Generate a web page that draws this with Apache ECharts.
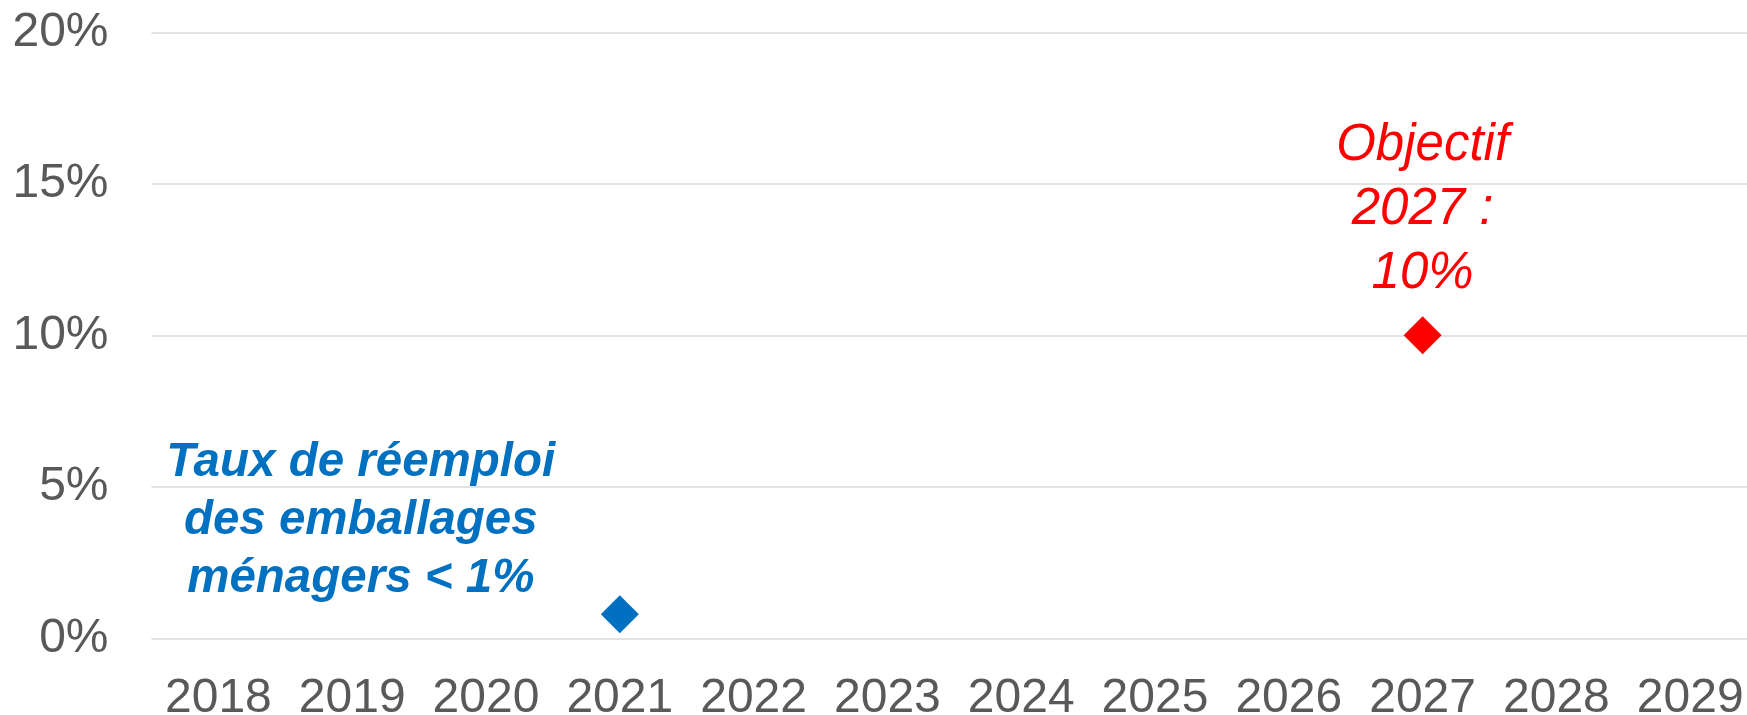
<!DOCTYPE html>
<html>
<head>
<meta charset="utf-8">
<script src="https://cdn.jsdelivr.net/npm/echarts@6/dist/echarts.min.js"></script>
<style>
html,body{margin:0;padding:0;background:#fff;}
#chart{width:1747px;height:715px;}
</style>
</head>
<body>
<div id="chart"></div>
<script>
const years = ['2018','2019','2020','2021','2022','2023','2024','2025','2026','2027','2028','2029'];
const reuseRate = ['-','-','-',0.8,'-','-','-','-','-','-','-','-'];
const target2027 = ['-','-','-','-','-','-','-','-','-',10,'-','-'];
const yTicks = [0, 5, 10, 15, 20];
const reuseLabel = 'Taux de réemploi\ndes emballages\nménagers < 1%';
const targetLabel = 'Objectif\n2027 :\n10%';

const chart = echarts.init(document.getElementById('chart'));
chart.setOption({
  animation: false,
  backgroundColor: '#ffffff',
  grid: { left: 151.5, width: 1605.6, top: 32.3, bottom: 76.6, containLabel: false, outerBoundsMode: 'none' },
  xAxis: {
    type: 'category',
    data: years,
    boundaryGap: true,
    axisLine: { show: false },
    axisTick: { show: false },
    axisLabel: { color: '#595959', fontSize: 48, fontFamily: 'Liberation Sans, Arial, sans-serif', margin: 36, interval: 0 },
    splitLine: { show: false }
  },
  yAxis: {
    type: 'value',
    min: yTicks[0],
    max: yTicks[yTicks.length - 1],
    interval: 5,
    axisLine: { show: false },
    axisTick: { show: false },
    axisLabel: { color: '#595959', fontSize: 48, fontFamily: 'Liberation Sans, Arial, sans-serif', margin: 43, formatter: '{value}%' },
    splitLine: { show: true, lineStyle: { color: '#D9D9D9', width: 1.5 } }
  },
  series: [
    {
      name: 'reuse',
      type: 'scatter',
      data: reuseRate,
      symbol: 'diamond',
      symbolSize: 38,
      itemStyle: { color: '#0070C0', opacity: 1 },
      label: {
        show: true,
        position: 'top',
        distance: 5,
        offset: [-259, 18],
        formatter: reuseLabel,
        color: '#0070C0',
        opacity: 1,
        fontSize: 47.5,
        fontWeight: 'bold',
        fontStyle: 'italic',
        fontFamily: 'Liberation Sans, Arial, sans-serif',
        lineHeight: 58,
        align: 'center'
      }
    },
    {
      name: 'target',
      type: 'scatter',
      data: target2027,
      symbol: 'diamond',
      symbolSize: 38,
      itemStyle: { color: '#FF0000', opacity: 1 },
      label: {
        show: true,
        position: 'top',
        distance: 11,
        formatter: targetLabel,
        color: '#FF0000',
        opacity: 1,
        fontSize: 51,
        fontStyle: 'italic',
        fontFamily: 'Liberation Sans, Arial, sans-serif',
        lineHeight: 64,
        align: 'center'
      }
    }
  ]
});
</script>
</body>
</html>
